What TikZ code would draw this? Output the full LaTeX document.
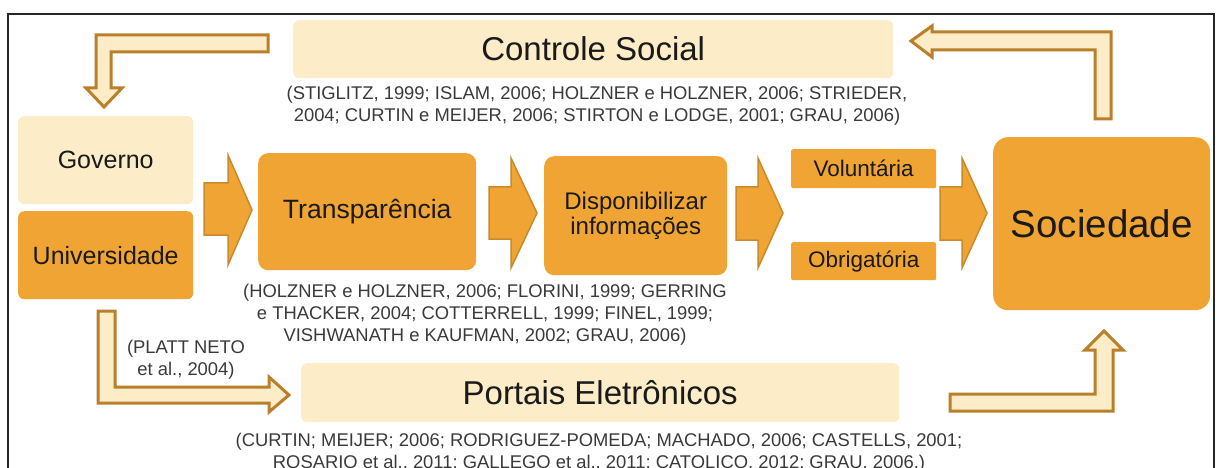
\documentclass[tikz,border=0pt]{standalone}
\usepackage{fontspec}
\setmainfont{Liberation Sans}
\definecolor{orangefill}{HTML}{F0A434}
\definecolor{orangeline}{HTML}{C98A2C}
\definecolor{lightfill}{HTML}{FCECC8}
\definecolor{hollowline}{HTML}{B97F2A}
\definecolor{citegray}{HTML}{3A3A3A}
\definecolor{maintext}{HTML}{1A1A1A}
\begin{document}
\begin{tikzpicture}[x=1pt,y=-1pt,
  lightbox/.style={fill=lightfill, draw=none, rounded corners=6pt, inner sep=0pt, anchor=north west, text=maintext},
  orangebox/.style={fill=orangefill, draw=none, rounded corners=8pt, inner sep=0pt, anchor=north west, text=maintext, align=center},
  blockarrow/.style={fill=orangefill, draw=orangeline, line width=1.5pt, line join=miter},
  hollowarrow/.style={fill=lightfill, draw=hollowline, line width=3pt, line join=miter},
  cite/.style={text=citegray, font=\fontsize{18.4}{22}\selectfont, align=center, inner sep=0pt},
  bigfont/.style={font=\fontsize{33}{36}\selectfont},
  midfont/.style={font=\fontsize{25}{27}\selectfont},
]
\useasboundingbox (0,0) rectangle (1219,468);
\clip (0,0) rectangle (1219,468);
\fill[white] (0,0) rectangle (1219,468);
% frame
\draw[line width=1.5pt, draw=black!85] (8,14) rectangle (1214,520);

% boxes
\node[lightbox, bigfont, minimum width=600pt, minimum height=58pt] (controle) at (293,20) {Controle Social};
\node[lightbox, midfont, minimum width=175pt, minimum height=88pt] (governo) at (18,116) {Governo};
\node[orangebox, midfont, rounded corners=6pt, minimum width=175pt, minimum height=88pt] (univ) at (18,211) {Universidade};
\node[orangebox, font=\fontsize{26.5}{28}\selectfont, rounded corners=10pt, minimum width=218pt, minimum height=117pt] (transp) at (258,153) {Transparência};
\node[orangebox, font=\fontsize{24}{25}\selectfont, rounded corners=10pt, minimum width=183pt, minimum height=119pt] (dispon) at (544,156) {Disponibilizar\\informações};
\node[orangebox, font=\fontsize{22.5}{24}\selectfont, rounded corners=2pt, minimum width=145pt, minimum height=39pt] (volunt) at (791,149) {Voluntária};
\node[orangebox, font=\fontsize{22.5}{24}\selectfont, rounded corners=2pt, minimum width=145pt, minimum height=38pt] (obrig) at (791,242) {Obrigatória};
\node[orangebox, font=\fontsize{38.5}{40}\selectfont, rounded corners=15pt, minimum width=217pt, minimum height=173pt] (socied) at (993,137) {Sociedade};
\node[lightbox, bigfont, minimum width=598pt, minimum height=59pt] (portais) at (301,363) {Portais Eletrônicos};

% citations
\node[cite] (cite1) at (597,106) {(STIGLITZ, 1999; ISLAM, 2006; HOLZNER e HOLZNER, 2006; STRIEDER,\\2004; CURTIN e MEIJER, 2006; STIRTON e LODGE, 2001; GRAU, 2006)};
\node[cite] (cite2) at (485,315) {(HOLZNER e HOLZNER, 2006; FLORINI, 1999; GERRING\\e THACKER, 2004; COTTERRELL, 1999; FINEL, 1999;\\VISHWANATH e KAUFMAN, 2002; GRAU, 2006)};
\node[cite] (cite3) at (186,360) {(PLATT NETO\\et al., 2004)};
\node[cite] (cite4) at (599,453) {(CURTIN; MEIJER; 2006; RODRIGUEZ-POMEDA; MACHADO, 2006; CASTELLS, 2001;\\ROSARIO et al., 2011; GALLEGO et al., 2011; CATOLICO, 2012; GRAU, 2006.)};

% orange block arrows
\draw[blockarrow] (204,183) -- (228,183) -- (228,155) -- (252,210) -- (228,265) -- (228,235) -- (204,235) -- cycle;
\draw[blockarrow] (489,187) -- (511,187) -- (511,158) -- (537,213) -- (511,268) -- (511,239) -- (489,239) -- cycle;
\draw[blockarrow] (736,187) -- (758,187) -- (758,158) -- (783,213) -- (758,268) -- (758,240) -- (736,240) -- cycle;
\draw[blockarrow] (940,187) -- (962,187) -- (962,158) -- (987,213) -- (962,268) -- (962,240) -- (940,240) -- cycle;

% hollow L arrows
\draw[hollowarrow] (268,35) -- (96,35) -- (96,88) -- (86,88) -- (104,107) -- (122,88) -- (111,88) -- (111,52) -- (268,52) -- cycle;
\draw[hollowarrow] (932,26) -- (911,41) -- (932,57) -- (932,50) -- (1095,50) -- (1095,119) -- (1111,119) -- (1111,32) -- (932,32) -- cycle;
\draw[hollowarrow] (98,311) -- (98,403) -- (269,403) -- (269,412) -- (289,395) -- (269,377) -- (269,387) -- (115,387) -- (115,311) -- cycle;
\draw[hollowarrow] (950,394) -- (950,411) -- (1113,411) -- (1113,350) -- (1123,350) -- (1104,331) -- (1085,350) -- (1095,350) -- (1095,394) -- cycle;
\end{tikzpicture}
\end{document}
